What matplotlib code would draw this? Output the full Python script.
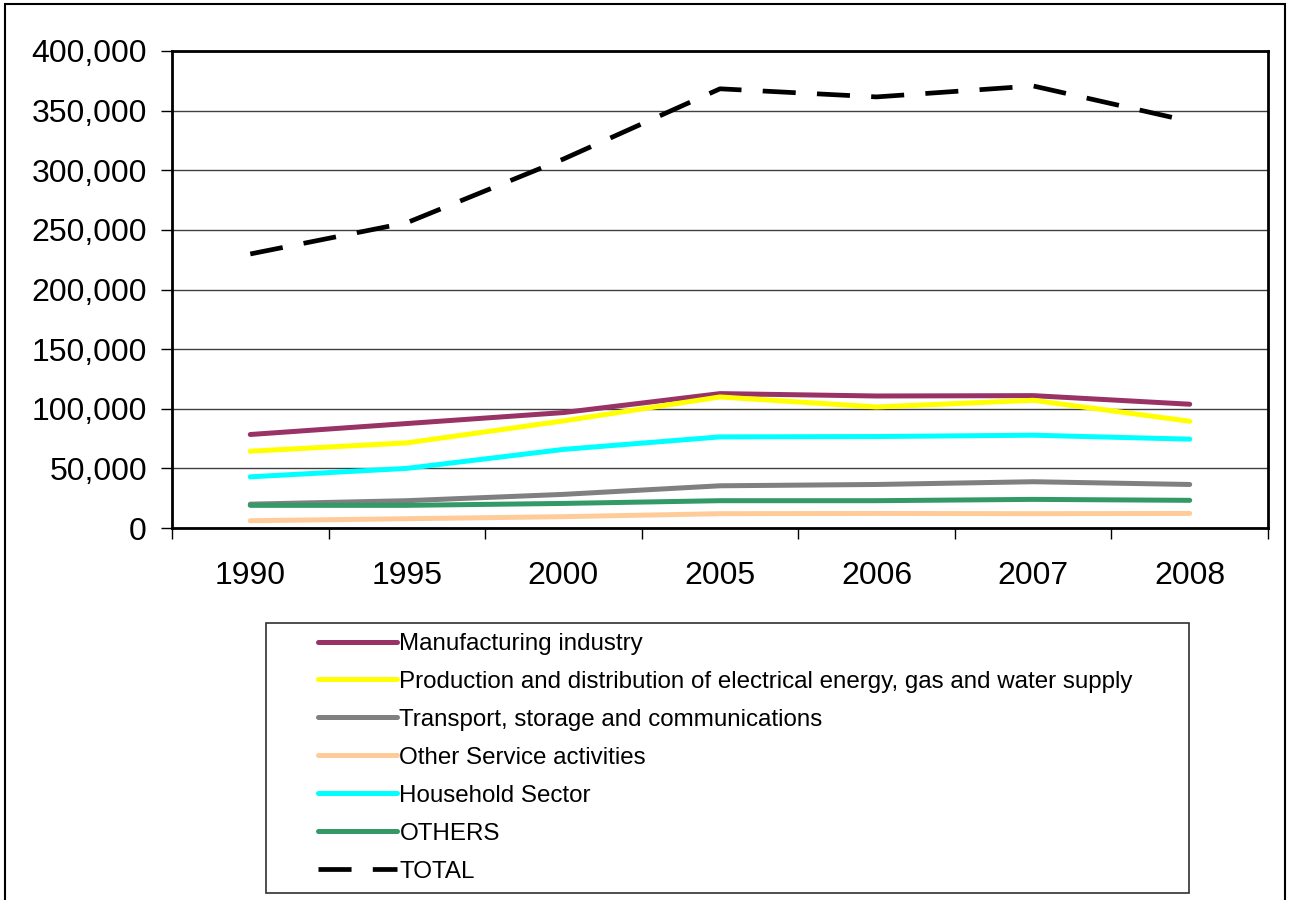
import matplotlib.pyplot as plt
from matplotlib.patches import Rectangle
from matplotlib.ticker import FuncFormatter

plt.rcParams['font.family'] = ['Liberation Sans', 'DejaVu Sans']

years = ['1990', '1995', '2000', '2005', '2006', '2007', '2008']

manufacturing = [78400, 87600, 96800, 112700, 110700, 111000, 103800]
electricity = [64400, 71400, 89800, 109900, 101500, 107100, 89500]
transport = [20000, 22900, 28200, 35400, 36500, 38800, 36500]
other_services = [6100, 7800, 9500, 12000, 12200, 12000, 12200]
household = [42900, 50000, 65900, 76400, 76700, 77800, 74500]
others = [19000, 19000, 20600, 22900, 22900, 24000, 23200]
total = [229800, 256000, 309400, 368300, 361500, 370700, 341000]

series = [
    ('Manufacturing industry', manufacturing, '#993366'),
    ('Production and distribution of electrical energy, gas and water supply', electricity, '#FFFF00'),
    ('Transport, storage and communications', transport, '#808080'),
    ('Other Service activities', other_services, '#FFCC99'),
    ('Household Sector', household, '#00FFFF'),
    ('OTHERS', others, '#339966'),
]

W, H = 1295, 900
fig = plt.figure(figsize=(W / 100, H / 100), dpi=100)
ax = fig.add_axes([172 / W, 1 - 528 / H, (1268 - 172) / W, (528 - 51) / H])

x = list(range(len(years)))
for label, vals, color in series:
    ax.plot(x, vals, color=color, lw=3.6, solid_capstyle='round',
            solid_joinstyle='round', label=label)
ax.plot(x, total, color='black', lw=3.4, dashes=(7, 4.5), dash_capstyle='butt',
        label='TOTAL')

ax.set_xlim(-0.5, len(years) - 0.5)
ax.set_ylim(0, 400000)
ax.set_yticks(range(0, 400001, 50000))
ax.yaxis.set_major_formatter(FuncFormatter(lambda v, p: f'{int(v):,}'))
ax.grid(axis='y', color='#404040', lw=1)
ax.set_axisbelow(True)

ax.set_xticks(x)
ax.set_xticklabels(years)
ax.set_xticks([i + 0.5 for i in range(-1, len(years))], minor=True)
ax.tick_params(axis='x', which='major', length=0, pad=24, labelsize=23)
ax.tick_params(axis='x', which='minor', length=8, width=1, direction='out')
ax.tick_params(axis='y', length=8, width=1, pad=10, labelsize=23)

for s in ax.spines.values():
    s.set_linewidth(2)
    s.set_color('black')

# legend without its own frame; the box is drawn separately
leg = fig.legend(loc='upper left', bbox_to_anchor=(318 / W, 1 - 633 / H),
                 frameon=False, fontsize=17.4, handlelength=3.25,
                 handletextpad=0.12, labelspacing=0.66, borderpad=0,
                 borderaxespad=0)
fig.add_artist(Rectangle((266 / W, 1 - 893 / H), (1189 - 266) / W, (893 - 623) / H,
                         transform=fig.transFigure, fill=False,
                         edgecolor='#303030', lw=1.2))

# chart area border (bottom edge lies below the image)
fig.add_artist(Rectangle((5 / W, -0.05), (1285 - 5) / W, 1.05 - 4 / H,
                         transform=fig.transFigure, fill=False,
                         edgecolor='black', lw=1.5, clip_on=False))

fig.savefig('out.png', dpi=100)
